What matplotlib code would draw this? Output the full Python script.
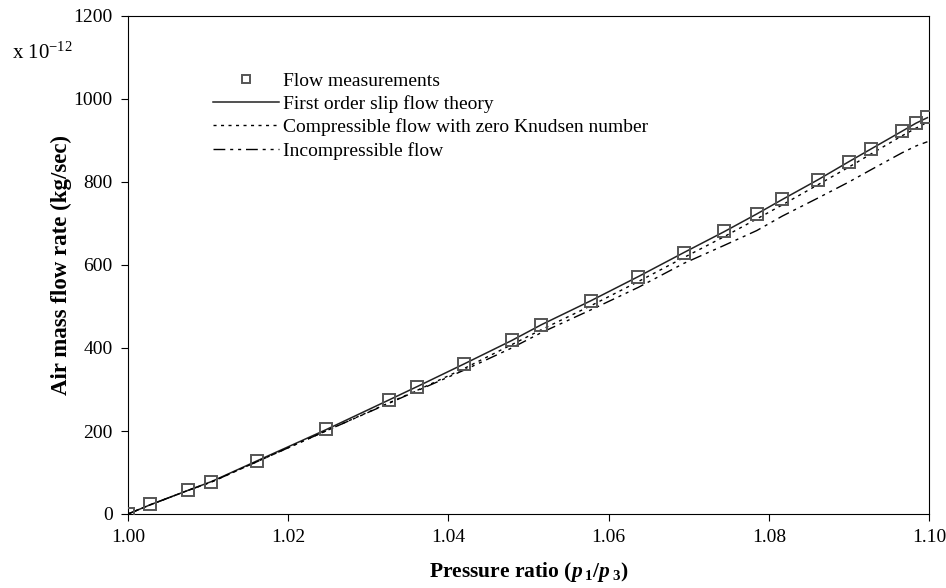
import numpy as np
import matplotlib
matplotlib.use('Agg')
import matplotlib.pyplot as plt

plt.rcParams['font.family'] = ['Liberation Serif', 'DejaVu Serif']
plt.rcParams['mathtext.fontset'] = 'custom'
plt.rcParams['mathtext.it'] = 'Liberation Serif:italic:bold'
plt.rcParams['mathtext.rm'] = 'Liberation Serif:bold'
plt.rcParams['mathtext.bf'] = 'Liberation Serif:bold'

# 压力比
ratio = [1.0, 1.00275, 1.0075, 1.0104, 1.0161, 1.0247, 1.0326, 1.0361, 1.0420,
         1.0479, 1.0516, 1.0578, 1.0637, 1.0694, 1.0744, 1.0785, 1.0817, 1.0861,
         1.0900, 1.0928, 1.0966, 1.0984, 1.0998]
# 质量流量 (x 1e-12 kg/sec)
measured = [0, 23, 58, 76, 128, 205, 275, 306, 361, 419, 455, 513, 571, 629,
            682, 724, 758, 805, 847, 879, 923, 941, 957]
slip = [0, 22, 57, 78, 128, 203, 275, 307, 362, 418, 456, 514, 572, 630,
        680, 723, 758, 805, 849, 880, 922, 942, 955]
compressible = [0, 22, 57, 77, 126, 200, 268, 298, 351, 408, 444, 502, 560, 618,
                668, 711, 745, 793, 836, 868, 911, 930, 944]
incompressible = [0, 22, 57, 77, 126, 200, 267, 297, 347, 400, 437, 492, 546, 604,
                  647, 683, 718, 761, 800, 830, 870, 887, 897]

fig = plt.figure(figsize=(9.46, 5.88), dpi=100)
ax = fig.add_axes([128/946, 1 - 514/588, 801/946, 498/588])

ax.plot(ratio, measured, linestyle='none', marker='s', markersize=8,
        markerfacecolor='none', markeredgecolor='#555555', markeredgewidth=1.4,
        label='Flow measurements', zorder=5)
ax.plot(ratio, slip, color='#222222', lw=1.1, label='First order slip flow theory')
ax.plot(ratio, compressible, color='black', lw=1.0, dashes=(2.2, 3.2),
        label='Compressible flow with zero Knudsen number')
ax.plot(ratio, incompressible, color='black', lw=1.0,
        dashes=(8.5, 3.5, 2.2, 3.5, 2.2, 3.5), label='Incompressible flow')

ax.set_xlim(1.0, 1.1)
ax.set_ylim(0, 1200)
ax.set_xticks(np.arange(1.0, 1.1001, 0.02))
ax.set_xticklabels(['%.2f' % v for v in np.arange(1.0, 1.1001, 0.02)])
ax.set_yticks(range(0, 1201, 200))
ax.tick_params(direction='out', length=5, width=0.8, labelsize=14, pad=6,
               top=False, right=False)
for s in ax.spines.values():
    s.set_linewidth(0.8)

ax.set_xlabel(r'Pressure ratio ($p\,_{\mathrm{1}}/p\,_{\mathrm{3}}$)', fontsize=15.5,
              fontweight='bold', va='center')
ax.xaxis.set_label_coords(0.5, (514 - 572) / 498)
ax.set_ylabel('Air mass flow rate (kg/sec)', fontsize=16.5, fontweight='bold', va='center')
ax.yaxis.set_label_coords((61 - 128) / 801, 0.5)

fig.text(12/946, 1 - 59/588, r'x 10$^{\mathregular{-12}}$', fontsize=15, va='baseline')

ax.legend(loc='upper left', bbox_to_anchor=(213/946, 1 - 72/588),
          bbox_transform=fig.transFigure, frameon=False, fontsize=14,
          borderpad=0, borderaxespad=0, handlelength=3.4, handletextpad=0.2,
          labelspacing=0.28, markerscale=0.7)

plt.savefig('out.png', dpi=100)
